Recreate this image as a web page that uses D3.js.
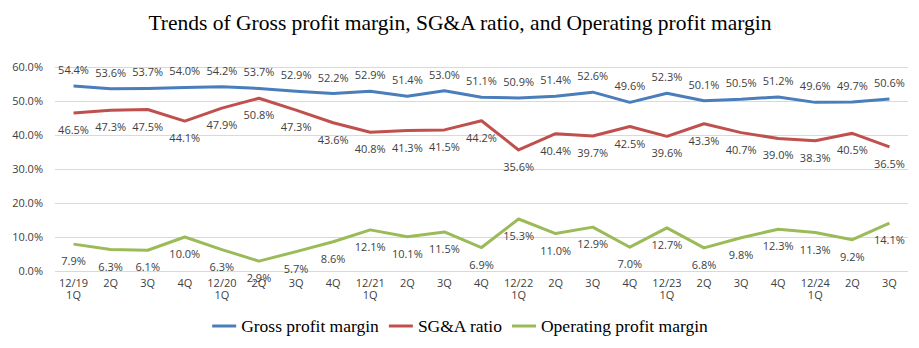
<!DOCTYPE html>
<html>
<head>
<meta charset="utf-8">
<script src="https://cdn.jsdelivr.net/npm/d3@7"></script>
<style>
  body { margin: 0; background: #fff; }
  svg { display: block; }
  .axis text { font-family: "Open Sans", "Liberation Sans", sans-serif; font-size: 11px; fill: #404040; }
  .lbl { font-family: "Open Sans", "Liberation Sans", sans-serif; font-size: 11px; fill: #404040; }
</style>
</head>
<body>
<svg width="919" height="348"></svg>
<script>
// quarters, fiscal year shown on the first quarter
var quarters = ['12/19|1Q', '2Q', '3Q', '4Q', '12/20|1Q', '2Q', '3Q', '4Q', '12/21|1Q', '2Q', '3Q', '4Q',
  '12/22|1Q', '2Q', '3Q', '4Q', '12/23|1Q', '2Q', '3Q', '4Q', '12/24|1Q', '2Q', '3Q'];

var grossMargin = [54.4, 53.6, 53.7, 54.0, 54.2, 53.7, 52.9, 52.2, 52.9, 51.4, 53.0, 51.1,
  50.9, 51.4, 52.6, 49.6, 52.3, 50.1, 50.5, 51.2, 49.6, 49.7, 50.6];
var sgaRatio = [46.5, 47.3, 47.5, 44.1, 47.9, 50.8, 47.3, 43.6, 40.8, 41.3, 41.5, 44.2,
  35.6, 40.4, 39.7, 42.5, 39.6, 43.3, 40.7, 39.0, 38.3, 40.5, 36.5];
var opMargin = [7.9, 6.3, 6.1, 10.0, 6.3, 2.9, 5.7, 8.6, 12.1, 10.1, 11.5, 6.9,
  15.3, 11.0, 12.9, 7.0, 12.7, 6.8, 9.8, 12.3, 11.3, 9.2, 14.1];

var yTicks = [0, 10, 20, 30, 40, 50, 60];

var seriesNames = ['Gross profit margin', 'SG&A ratio', 'Operating profit margin'];
var seriesColors = ['#4A7EBB', '#C0504D', '#9BBB59'];

var series = [
  { name: seriesNames[0], values: grossMargin, color: seriesColors[0], pos: 'above' },
  { name: seriesNames[1], values: sgaRatio, color: seriesColors[1], pos: 'below' },
  { name: seriesNames[2], values: opMargin, color: seriesColors[2], pos: 'below' }
];

var svg = d3.select('svg');
var margin = {top: 67, right: 11, bottom: 77, left: 55};
var width = 919 - margin.left - margin.right;
var height = 348 - margin.top - margin.bottom;

var x = d3.scaleBand().domain(d3.range(quarters.length)).range([0, width]);
var y = d3.scaleLinear().domain([0, 60]).range([height, 0]);

// title
svg.append('text')
  .attr('x', 460)
  .attr('y', 30)
  .attr('text-anchor', 'middle')
  .style('font-family', '"Liberation Serif", "Times New Roman", serif')
  .style('font-size', '21.5px')
  .style('fill', '#000')
  .text('Trends of Gross profit margin, SG&A ratio, and Operating profit margin');

var g = svg.append('g')
  .attr('transform', 'translate(' + margin.left + ',' + margin.top + ')');

// horizontal gridlines + y axis labels
var yAxis = d3.axisLeft(y)
  .tickValues(yTicks)
  .tickSize(-width)
  .tickPadding(12)
  .tickFormat(function(d) { return d.toFixed(1) + '%'; });

g.append('g')
  .attr('class', 'axis axis--y')
  .call(yAxis)
  .call(function(s) {
    s.select('.domain').remove();
    s.selectAll('.tick line').attr('stroke', '#D9D9D9').attr('stroke-width', 1);
  });

// x axis with two-line quarter labels
var xAxis = d3.axisBottom(x).tickSize(0).tickPadding(8).tickFormat('');
var xg = g.append('g')
  .attr('class', 'axis axis--x')
  .attr('transform', 'translate(0,' + height + ')')
  .call(xAxis);
xg.select('.domain').remove();
xg.selectAll('.tick text')
  .each(function(i) {
    var parts = quarters[i].split('|');
    var t = d3.select(this).attr('y', 8).attr('dy', '0.71em');
    parts.forEach(function(p, k) {
      t.append('tspan').attr('x', 0).attr('dy', k === 0 ? '0.71em' : '1.1em').text(p);
    });
  });

var line = d3.line()
  .x(function(d, i) { return x(i) + x.bandwidth() / 2; })
  .y(function(d) { return y(d); });

series.forEach(function(s) {
  g.append('path')
    .datum(s.values)
    .attr('fill', 'none')
    .attr('stroke', s.color)
    .attr('stroke-width', 3)
    .attr('stroke-linejoin', 'round')
    .attr('d', line);
});

// data labels
series.forEach(function(s) {
  g.selectAll(null)
    .data(s.values)
    .enter().append('text')
    .attr('class', 'lbl')
    .attr('x', function(d, i) { return x(i) + x.bandwidth() / 2; })
    .attr('y', function(d) { return s.pos === 'above' ? y(d) - 12 : y(d) + 21; })
    .attr('text-anchor', 'middle')
    .text(function(d) { return d.toFixed(1) + '%'; });
});

// legend, centred under the plot
var legend = svg.append('g');
var lx = 0;
series.forEach(function(s) {
  legend.append('line')
    .attr('x1', lx).attr('x2', lx + 24)
    .attr('y1', 0).attr('y2', 0)
    .attr('stroke', s.color).attr('stroke-width', 3);
  var t = legend.append('text')
    .attr('x', lx + 29)
    .attr('y', 6)
    .style('font-family', '"Liberation Serif", "Times New Roman", serif')
    .style('font-size', '17.5px')
    .style('fill', '#000')
    .text(s.name);
  lx += 29 + t.node().getComputedTextLength() + 10;
});
var lw = lx - 10;
legend.attr('transform', 'translate(' + (460 - lw / 2) + ',326)');
</script>
</body>
</html>
